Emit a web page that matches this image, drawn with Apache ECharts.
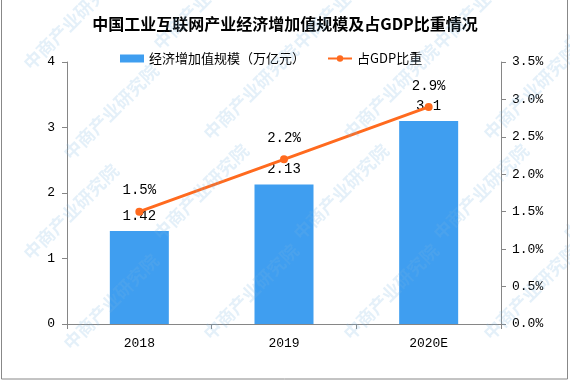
<!DOCTYPE html>
<html><head><meta charset="utf-8">
<script src="https://cdn.jsdelivr.net/npm/echarts@6/dist/echarts.min.js"></script>
<style>html,body{margin:0;padding:0;background:#fff}#c{width:570px;height:381px}</style>
</head><body><div id="c"></div>
<script>
const categories = ['2018', '2019', '2020E'];
const valueScale = [1.42, 2.13, 3.1];
const gdpShare = [1.5, 2.2, 2.9];
const seriesNames = ['经济增加值规模（万亿元）', '占GDP比重'];
const titleText = '中国工业互联网产业经济增加值规模及占GDP比重情况';

const numFont = '"Liberation Mono", "DejaVu Sans Mono", monospace';
const cjkFont = '"Noto Sans CJK SC", sans-serif';

const wm = [];
const wmPos = [[20,60],[150,40],[290,40],[430,40],[560,40],[60,150],[200,130],[340,130],[480,130],[20,250],[150,230],[290,230],[430,230],[560,230],[60,340],[200,330],[340,330],[480,330]];
wmPos.forEach(p => wm.push({
  type: 'text', x: p[0], y: p[1], rotation: Math.PI/4, z: 100,
  style: { text: '中商产业研究院', fill: 'rgba(120,180,225,0.2)', font: 'bold 18px "Noto Sans CJK SC"' }
}));

const chart = echarts.init(document.getElementById('c'));
chart.setOption({
  animation: false,
  backgroundColor: '#fff',
  title: { text: titleText, left: 'center', top: 11,
    textStyle: { fontSize: 16, fontWeight: 'bold', color: '#000', fontFamily: cjkFont } },
  legend: { top: 47, left: 115, itemGap: 22, itemWidth: 24, itemHeight: 8,
    textStyle: { fontSize: 13, color: '#000', fontFamily: cjkFont },
    data: [{ name: seriesNames[0], icon: 'rect' }, { name: seriesNames[1] }] },
  grid: { left: 67, right: 69, top: 62, bottom: 57 },
  xAxis: { type: 'category', data: categories,
    axisLine: { lineStyle: { color: '#868686' } },
    axisTick: { show: true, alignWithLabel: false, length: 5, lineStyle: { color: '#868686' } },
    axisLabel: { color: '#000', fontSize: 13, fontFamily: numFont, margin: 13 } },
  yAxis: [
    { type: 'value', min: 0, max: 4, interval: 1,
      axisLine: { show: true, lineStyle: { color: '#868686' } },
      axisTick: { show: true, length: 5, lineStyle: { color: '#868686' } },
      splitLine: { show: false },
      axisLabel: { color: '#000', fontSize: 13, fontFamily: numFont, margin: 12 } },
    { type: 'value', min: 0, max: 3.5, interval: 0.5,
      axisLine: { show: true, lineStyle: { color: '#868686' } },
      axisTick: { show: true, length: 5, lineStyle: { color: '#868686' } },
      splitLine: { show: false },
      axisLabel: { color: '#000', fontSize: 13, fontFamily: numFont, margin: 11,
        formatter: v => v.toFixed(1) + '%' } }
  ],
  series: [
    { name: seriesNames[0], type: 'bar', data: valueScale, barWidth: 59,
      itemStyle: { color: '#3F9EF0' },
      label: { show: true, position: 'top', distance: 8, color: '#000', fontSize: 14, fontFamily: numFont } },
    { name: seriesNames[1], type: 'line', yAxisIndex: 1, data: gdpShare,
      symbol: 'circle', symbolSize: 8,
      lineStyle: { color: '#FF6A1E', width: 3 }, itemStyle: { color: '#FF6A1E' },
      label: { show: true, position: 'top', distance: 10, color: '#000', fontSize: 14, fontFamily: numFont,
        formatter: p => p.value.toFixed(1) + '%' } }
  ],
  graphic: [
    { type: 'rect', shape: { x: 1.5, y: -2, width: 566, height: 381 }, z: 101,
      style: { fill: 'none', stroke: '#888', lineWidth: 1 } }
  ].concat(wm)
});
</script></body></html>
